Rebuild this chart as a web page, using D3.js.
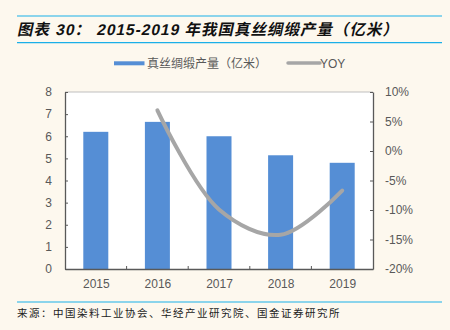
<!DOCTYPE html>
<html><head><meta charset="utf-8">
<script src="https://cdn.jsdelivr.net/npm/d3@7"></script>
<style>
html,body{margin:0;padding:0;background:#FDF8EE;}
svg{display:block;}
</style></head>
<body>
<svg id="c" width="450" height="330"></svg>
<script>
const categories = ["2015","2016","2017","2018","2019"];
const production = [6.2, 6.65, 6.0, 5.14, 4.8];
const yoyYears = ["2016","2017","2018","2019"];
const yoy = [6.9, -9.9, -14.2, -6.7];
const leftTicks = [0,1,2,3,4,5,6,7,8];
const rightTicks = [-20,-15,-10,-5,0,5,10];

const svg = d3.select("#c");
const font = "'Liberation Sans', Arial, 'Noto Sans CJK SC', sans-serif";
const cjk = "'Noto Sans CJK SC', sans-serif";
const L = 65, R = 373, T = 92, B = 269;

svg.append("rect").attr("width",450).attr("height",330).attr("fill","#FDF8EE");

// title lines
svg.append("line").attr("x1",17).attr("x2",442).attr("y1",16).attr("y2",16).attr("stroke","#1AAFE8").attr("stroke-width",1.2);
svg.append("line").attr("x1",17).attr("x2",442).attr("y1",42.7).attr("y2",42.7).attr("stroke","#1AAFE8").attr("stroke-width",1.2);
svg.append("g").attr("transform","translate(17,35) skewX(-12)")
  .append("text").attr("x",0).attr("y",0).attr("font-family","'Liberation Sans', 'Noto Sans CJK SC', sans-serif")
  .attr("font-size",15.5).attr("font-weight","bold").attr("fill","#111").attr("letter-spacing",1.0)
  .text("图表 30： 2015-2019 年我国真丝绸缎产量（亿米）");

// legend
svg.append("rect").attr("x",114).attr("y",61.3).attr("width",30.5).attr("height",4).attr("fill","#558ED5");
svg.append("text").attr("x",147).attr("y",67.5).attr("font-family",cjk).attr("font-size",12).attr("fill","#595959").text("真丝绸缎产量（亿米）");
svg.append("line").attr("x1",288).attr("x2",320).attr("y1",63).attr("y2",63).attr("stroke","#A6A6A6").attr("stroke-width",3.5).attr("stroke-linecap","round");
svg.append("text").attr("x",320).attr("y",67.5).attr("font-family",font).attr("font-size",12).attr("fill","#595959").text("YOY");

// plot area
svg.append("rect").attr("x",L).attr("y",T).attr("width",R-L).attr("height",B-T).attr("fill","#FFFFFF");
svg.append("line").attr("x1",L).attr("x2",R).attr("y1",T).attr("y2",T).attr("stroke","#BFBFBF").attr("stroke-width",1);

const xc = d3.scalePoint().domain(categories).range([L,R]).padding(0.5);
const yL = d3.scaleLinear().domain([0,8]).range([B,T]);
const yR = d3.scaleLinear().domain([-20,10]).range([B,T]);

// bars
svg.append("g").selectAll("rect").data(categories).join("rect")
  .attr("x",d=>xc(d)-12.5).attr("width",25)
  .attr("y",(d,i)=>yL(production[i])).attr("height",(d,i)=>B-yL(production[i]))
  .attr("fill","#558ED5");

// line
const line = d3.line().x((d,i)=>xc(yoyYears[i])).y(d=>yR(d)).curve(d3.curveCatmullRom.alpha(0.5));
svg.append("path").datum(yoy).attr("d",line).attr("fill","none").attr("stroke","#A6A6A6").attr("stroke-width",4).attr("stroke-linecap","round");

// left axis
const gl = svg.append("g").attr("transform",`translate(${L},0)`)
  .call(d3.axisLeft(yL).tickValues(leftTicks).tickSizeInner(-3).tickSizeOuter(0).tickPadding(13));
// right axis
const gr = svg.append("g").attr("transform",`translate(${R},0)`)
  .call(d3.axisRight(yR).tickValues(rightTicks).tickSizeInner(-3).tickSizeOuter(0).tickPadding(12).tickFormat(d=>d+"%"));
// bottom axis
const gb = svg.append("g").attr("transform",`translate(0,${B})`)
  .call(d3.axisBottom(xc).tickSize(0).tickPadding(10));
const bw = (R-L)/categories.length;
gb.selectAll(".sep").data(d3.range(1,categories.length)).join("line").attr("class","sep")
  .attr("x1",d=>L+d*bw).attr("x2",d=>L+d*bw).attr("y1",0).attr("y2",-3).attr("stroke","#595959");

[gl,gr,gb].forEach(g=>{
  g.selectAll(".domain").attr("stroke","#595959").attr("stroke-width",1.3);
  g.selectAll(".tick line").attr("stroke","#595959");
  g.selectAll("text").attr("font-family",font).attr("font-size",12).attr("fill","#595959");
});
gb.selectAll("text").attr("dy","0.71em");

// footer
svg.append("line").attr("x1",17).attr("x2",442).attr("y1",302).attr("y2",302).attr("stroke","#1AAFE8").attr("stroke-width",1.2);
svg.append("text").attr("x",17).attr("y",317).attr("font-family","'Noto Sans CJK SC', serif").attr("font-size",10.5).attr("fill","#222")
  .attr("letter-spacing",1.5).text("来源：中国染料工业协会、华经产业研究院、国金证券研究所");
</script>
</body></html>
